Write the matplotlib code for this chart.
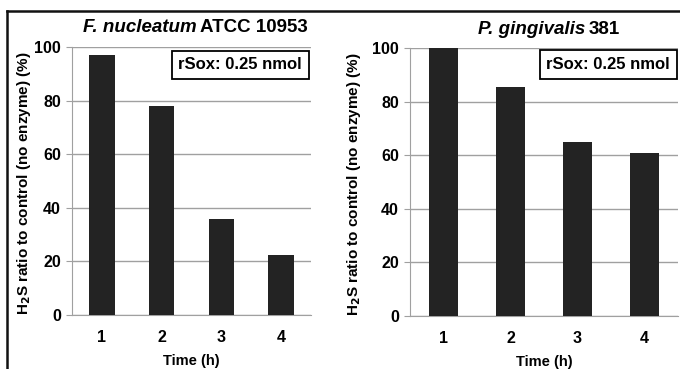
import numpy as np
import matplotlib
matplotlib.use('Agg')
import matplotlib.pyplot as plt
from matplotlib.lines import Line2D

plt.rcParams['font.family'] = ['Liberation Sans', 'DejaVu Sans']
plt.rcParams['font.weight'] = 'bold'

times = ['1', '2', '3', '4']
fn_values = [97, 78, 36, 22.5]
pg_values = [100, 85.5, 65, 61]
yticks = [0, 20, 40, 60, 80, 100]
box_text = 'rSox: 0.25 nmol'
ylabel = 'H$_\\mathbf{2}$S ratio to control (no enzyme) (%)'

W, H = 680, 369
fig = plt.figure(figsize=(W / 100, H / 100), dpi=100)

def px_axes(x0, x1, ytop, ybot):
    return fig.add_axes([x0 / W, 1 - ybot / H, (x1 - x0) / W, (ybot - ytop) / H])

def style(ax, vals):
    x = np.arange(len(times))
    ax.bar(x, vals, width=0.43, color='#232323', zorder=3)
    ax.set_xlim(-0.5, len(times) - 0.5)
    ax.set_ylim(0, 100)
    ax.set_yticks(yticks)
    ax.set_xticks(x)
    ax.set_xticklabels(times)
    ax.yaxis.grid(True, color='#a0a0a0', linewidth=1.0, zorder=0)
    ax.set_axisbelow(True)
    for s in ['top', 'right']:
        ax.spines[s].set_visible(False)
    ax.spines['left'].set_color('#a0a0a0')
    ax.spines['bottom'].set_color('#a0a0a0')
    ax.tick_params(axis='y', colors='#a0a0a0', labelcolor='black', length=4,
                   labelsize=11.5, pad=4)
    ax.tick_params(axis='x', length=0, labelsize=11.5, pad=11)
    for lab in ax.get_xticklabels() + ax.get_yticklabels():
        lab.set_fontweight('bold')
    ax.set_xlabel('Time (h)', fontsize=10.5, fontweight='bold', labelpad=6)
    ax.set_ylabel(ylabel, fontsize=11, fontweight='bold')

ax1 = px_axes(72, 311, 47, 315)
style(ax1, fn_values)
ax2 = px_axes(410, 678, 48, 316)
style(ax2, pg_values)
ax1.yaxis.set_label_coords(-(72 - 33) / 239, 0.49)
ax2.yaxis.set_label_coords(-(410 - 363) / 268, 0.49)

# boxed annotation
for ax, bx, by in ((ax1, 0.962, 0.933), (ax2, 0.970, 0.938)):
    ax.text(bx, by, box_text, transform=ax.transAxes, ha='right', va='center',
            fontsize=12, fontweight='bold', zorder=5,
            bbox=dict(boxstyle='square,pad=0.4', facecolor='white',
                      edgecolor='black', linewidth=1.3))

# titles
fig.text(197 / W, 1 - 28 / H, 'F. nucleatum', ha='right', va='center',
         fontsize=13.5, fontweight='bold', fontstyle='italic')
fig.text(200 / W, 1 - 28 / H, 'ATCC 10953', ha='left', va='center',
         fontsize=13.5, fontweight='bold')
fig.text(585 / W, 1 - 29 / H, 'P. gingivalis', ha='right', va='center',
         fontsize=13.5, fontweight='bold', fontstyle='italic')
fig.text(589 / W, 1 - 29 / H, '381', ha='left', va='center',
         fontsize=13.5, fontweight='bold')

# outer frame (top and left edges)
fig.add_artist(Line2D([7 / W, 1], [1 - 11 / H, 1 - 11 / H], color='#111111',
                      linewidth=1.8, transform=fig.transFigure))
fig.add_artist(Line2D([7 / W, 7 / W], [0, 1 - 11 / H], color='#111111',
                      linewidth=1.8, transform=fig.transFigure))

fig.savefig('out.png', dpi=100)
